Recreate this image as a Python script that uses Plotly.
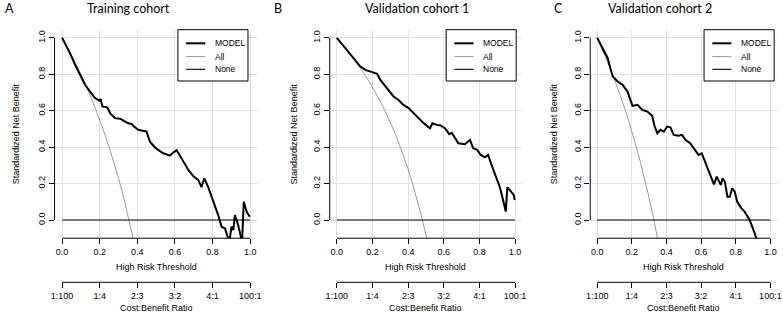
import plotly.graph_objects as go

# ---------------- data ----------------
panel_letters = ["A", "B", "C"]
panel_titles = ["Training cohort", "Validation cohort 1", "Validation cohort 2"]
series_names = ["MODEL", "All", "None"]

x_tickvals = [0.0, 0.2, 0.4, 0.6, 0.8, 1.0]
x_ticktext = ["0.0", "0.2", "0.4", "0.6", "0.8", "1.0"]
y_tickvals = [0.0, 0.2, 0.4, 0.6, 0.8, 1.0]
y_ticktext = ["0.0", "0.2", "0.4", "0.6", "0.8", "1.0"]
cb_ticktext = ["1:100", "1:4", "2:3", "3:2", "4:1", "100:1"]

# Training cohort
model_A_x = [0, 0.02, 0.042, 0.069, 0.096, 0.122, 0.149, 0.175, 0.198, 0.205, 0.214, 0.237, 0.245,
             0.255, 0.281, 0.308, 0.326, 0.352, 0.37, 0.379, 0.405, 0.432, 0.449, 0.467, 0.494, 0.511,
             0.538, 0.555, 0.573, 0.591, 0.609, 0.635, 0.671, 0.697, 0.724, 0.741, 0.756, 0.777, 0.795,
             0.812, 0.830, 0.848, 0.866, 0.889, 0.901, 0.91, 0.919, 0.936, 0.957, 0.966, 0.981, 0.998]
model_A_y = [1.0, 0.96, 0.916, 0.852, 0.797, 0.742, 0.705, 0.669, 0.655, 0.664, 0.623, 0.619, 0.61,
             0.586, 0.559, 0.556, 0.546, 0.531, 0.527, 0.516, 0.495, 0.489, 0.485, 0.43, 0.398, 0.385,
             0.366, 0.36, 0.353, 0.37, 0.383, 0.339, 0.275, 0.242, 0.220, 0.180, 0.229, 0.180, 0.128,
             0.082, 0.027, -0.037, -0.046, -0.12, -0.037, -0.055, 0.027, -0.027, -0.12, 0.10, 0.046, 0.018]
all_A_x = [0, 0.025, 0.05, 0.075, 0.1, 0.125, 0.15, 0.175, 0.2, 0.225, 0.25, 0.275, 0.3, 0.325,
           0.35, 0.375, 0.4]
all_A_y = [1.0, 0.954, 0.905, 0.854, 0.8, 0.743, 0.682, 0.618, 0.55, 0.477, 0.4, 0.317, 0.229, 0.133,
           0.031, -0.08, -0.2]

# Validation cohort 1
model_B_x = [0, 0.039, 0.077, 0.104, 0.132, 0.16, 0.188, 0.226, 0.244, 0.266, 0.291, 0.318, 0.346,
             0.374, 0.402, 0.43, 0.458, 0.486, 0.514, 0.523, 0.536, 0.561, 0.579, 0.607, 0.631, 0.645,
             0.682, 0.719, 0.747, 0.765, 0.788, 0.808, 0.831, 0.849, 0.868, 0.896, 0.915, 0.933, 0.948,
             0.957, 0.98, 0.993, 0.998]
model_B_y = [1.0, 0.952, 0.907, 0.870, 0.842, 0.824, 0.815, 0.802, 0.769, 0.742, 0.705, 0.678, 0.659,
             0.632, 0.614, 0.586, 0.559, 0.533, 0.51, 0.504, 0.531, 0.522, 0.52, 0.504, 0.471, 0.478,
             0.421, 0.416, 0.44, 0.394, 0.385, 0.357, 0.344, 0.357, 0.302, 0.229, 0.180, 0.110, 0.046,
             0.180, 0.15, 0.137, 0.110]
all_B_x = [0, 0.025, 0.05, 0.075, 0.1, 0.125, 0.15, 0.175, 0.2, 0.225, 0.25, 0.275, 0.3, 0.325,
           0.35, 0.375, 0.4, 0.425, 0.45, 0.475, 0.5, 0.525]
all_B_y = [1.0, 0.972, 0.943, 0.912, 0.880, 0.845, 0.809, 0.770, 0.729, 0.686, 0.639, 0.589, 0.536,
           0.479, 0.417, 0.350, 0.278, 0.200, 0.114, 0.020, -0.083, -0.197]

# Validation cohort 2
model_C_x = [0, 0.033, 0.061, 0.076, 0.09, 0.118, 0.147, 0.175, 0.194, 0.204, 0.233, 0.261, 0.29,
             0.309, 0.318, 0.33, 0.347, 0.366, 0.385, 0.404, 0.423, 0.442, 0.471, 0.49, 0.509, 0.537,
             0.566, 0.585, 0.604, 0.623, 0.642, 0.661, 0.674, 0.69, 0.705, 0.714, 0.724, 0.737, 0.752,
             0.766, 0.779, 0.794, 0.808, 0.833, 0.851, 0.88, 0.899, 0.914, 0.93]
model_C_y = [1.0, 0.943, 0.888, 0.833, 0.788, 0.760, 0.742, 0.705, 0.659, 0.626, 0.632, 0.604, 0.595,
             0.58, 0.57, 0.52, 0.476, 0.495, 0.485, 0.513, 0.509, 0.467, 0.462, 0.467, 0.440, 0.421,
             0.385, 0.357, 0.366, 0.320, 0.275, 0.220, 0.196, 0.238, 0.211, 0.192, 0.229, 0.211, 0.128,
             0.128, 0.174, 0.156, 0.101, 0.064, 0.046, 0.0, -0.046, -0.092, -0.13]
all_C_x = [0, 0.025, 0.05, 0.075, 0.1, 0.125, 0.15, 0.175, 0.2, 0.225, 0.25, 0.275, 0.3, 0.325,
           0.35, 0.375]
all_C_y = [1.0, 0.947, 0.892, 0.834, 0.772, 0.707, 0.638, 0.565, 0.4875, 0.405, 0.317, 0.222, 0.121,
           0.013, -0.104, -0.23]

none_x = [0.0, 1.0]
none_y = [0.0, 0.0]

models = [(model_A_x, model_A_y), (model_B_x, model_B_y), (model_C_x, model_C_y)]
alls = [(all_A_x, all_A_y), (all_B_x, all_B_y), (all_C_x, all_C_y)]

# ---------------- layout geometry (pixels) ----------------
W, H = 783, 313
x0_px = [58.7, 336.3, 599.3]     # pixel of threshold 0
x1_px = [248.7, 516.3, 774.3]    # pixel of threshold 1
y0_px, y1_px = 220.0, 37.8       # pixels of net benefit 0 and 1
XR = [-0.04, 1.04]
YR = [-0.1, 1.045]
cb_axis_px = 282.3
title_cx = [125.8, 417.0, 662.5]
letter_cx = [6.0, 277.0, 560.0]
ylab_cx = [12.5, 292.5, 556.0]
legend_left_px = [175.7, 446.7, 707.3]
legend_w, legend_top, legend_h = 70.8, 29.7, 51.3
legend_rows = [13.6, 26.9, 39.6]
legend_line = [8.3, 27.6]
legend_text_dx = 35.5

AX_FONT = dict(family="Liberation Sans, Arial, sans-serif", size=9, color="#000")
LEG_FONT = dict(family="Liberation Sans, Arial, sans-serif", size=8.5, color="#000")
TITLE_FONT = dict(family="Lato, Open Sans, sans-serif", size=12.5, color="#000")
GRID = "#e3e3e3"
series_styles = [dict(color="#000", width=2), dict(color="#9a9a9a", width=1),
                 dict(color="#000", width=1.1)]

def px2x(p):
    return p / W

def px2y(p):
    return 1 - p / H

fig = go.Figure()
layout = dict(width=W, height=H, margin=dict(l=0, r=0, t=0, b=0),
              plot_bgcolor="white", paper_bgcolor="white", showlegend=False)
shapes, annotations = [], []

ypx_per = y0_px - y1_px
ybot_px = y0_px - YR[0] * ypx_per
ytop_px = y0_px - YR[1] * ypx_per

for i in range(3):
    n = i + 1
    sfx = "" if n == 1 else str(n)
    xa, ya = "x" + sfx, "y" + sfx
    cbn = n + 3
    w = x1_px[i] - x0_px[i]
    L = x0_px[i] + XR[0] * w
    R = x0_px[i] + XR[1] * w

    mx, my = models[i]
    axx, axy = alls[i]
    fig.add_trace(go.Scatter(x=axx, y=axy, mode="lines", name=series_names[1],
                             line=series_styles[1], xaxis=xa, yaxis=ya, hoverinfo="skip"))
    fig.add_trace(go.Scatter(x=none_x, y=none_y, mode="lines", name=series_names[2],
                             line=series_styles[2], xaxis=xa, yaxis=ya, hoverinfo="skip"))
    fig.add_trace(go.Scatter(x=mx, y=my, mode="lines", name=series_names[0],
                             line=series_styles[0], xaxis=xa, yaxis=ya, hoverinfo="skip"))
    # carrier for cost:benefit axis
    fig.add_trace(go.Scatter(x=x_tickvals, y=[None] * len(x_tickvals), mode="lines",
                             xaxis="x" + str(cbn), yaxis=ya, hoverinfo="skip"))

    layout["xaxis" + sfx] = dict(
        domain=[px2x(L), px2x(R)], range=XR, anchor=ya,
        tickvals=x_tickvals, ticktext=x_ticktext, ticks="outside", ticklen=5,
        tickcolor="#000", tickwidth=1, tickfont=AX_FONT, showline=False,
        showgrid=True, gridcolor=GRID, gridwidth=1, zeroline=False, fixedrange=True)
    layout["yaxis" + sfx] = dict(
        domain=[px2y(ybot_px), px2y(ytop_px)], range=YR, anchor=xa,
        tickvals=y_tickvals, ticktext=y_ticktext, ticks="outside", ticklen=5,
        tickcolor="#000", tickwidth=1, tickfont=AX_FONT, tickangle=-90, showline=False,
        showgrid=True, gridcolor=GRID, gridwidth=1, zeroline=False, fixedrange=True)
    layout["xaxis" + str(cbn)] = dict(
        overlaying=xa, anchor="free", position=px2y(cb_axis_px), range=XR,
        tickvals=x_tickvals, ticktext=cb_ticktext, ticks="outside", ticklen=5,
        tickcolor="#000", tickwidth=1, tickfont=AX_FONT, showline=False, showgrid=False,
        zeroline=False, fixedrange=True)

    # R-style axis lines spanning first to last tick
    shapes.append(dict(type="line", xref=xa, yref=ya + " domain", x0=x_tickvals[0],
                       x1=x_tickvals[-1], y0=0, y1=0, line=dict(color="#000", width=1)))
    shapes.append(dict(type="line", xref=xa + " domain", yref=ya, x0=0, x1=0,
                       y0=y_tickvals[0], y1=y_tickvals[-1], line=dict(color="#000", width=1)))
    shapes.append(dict(type="line", xref=xa, yref="paper", x0=x_tickvals[0], x1=x_tickvals[-1],
                       y0=px2y(cb_axis_px), y1=px2y(cb_axis_px), line=dict(color="#000", width=1)))

    # legend box (R style)
    lx = legend_left_px[i]
    shapes.append(dict(type="rect", xref="paper", yref="paper", x0=px2x(lx), x1=px2x(lx + legend_w),
                       y0=px2y(legend_top), y1=px2y(legend_top + legend_h),
                       fillcolor="white", line=dict(color="#000", width=1), layer="above"))
    for k, name in enumerate(series_names):
        ry = legend_top + legend_rows[k]
        shapes.append(dict(type="line", xref="paper", yref="paper",
                           x0=px2x(lx + legend_line[0]), x1=px2x(lx + legend_line[1]),
                           y0=px2y(ry), y1=px2y(ry), line=series_styles[k], layer="above"))
        annotations.append(dict(text=name, x=px2x(lx + legend_text_dx), y=px2y(ry), xref="paper",
                                yref="paper", showarrow=False, font=LEG_FONT, xanchor="left",
                                yanchor="middle"))

    cx = (x0_px[i] + x1_px[i]) / 2
    annotations += [
        dict(text="High Risk Threshold", x=px2x(cx), y=px2y(266.7), xref="paper", yref="paper",
             showarrow=False, font=AX_FONT, xanchor="center", yanchor="middle"),
        dict(text="Cost:Benefit Ratio", x=px2x(cx), y=px2y(308.3), xref="paper", yref="paper",
             showarrow=False, font=AX_FONT, xanchor="center", yanchor="middle"),
        dict(text="Standardized Net Benefit", x=px2x(ylab_cx[i]), y=px2y((ybot_px + ytop_px) / 2),
             xref="paper", yref="paper", showarrow=False, font=AX_FONT, textangle=-90,
             xanchor="center", yanchor="middle"),
        dict(text=panel_titles[i], x=px2x(title_cx[i]), y=px2y(8), xref="paper", yref="paper",
             showarrow=False, font=TITLE_FONT, xanchor="center", yanchor="middle"),
        dict(text=panel_letters[i], x=px2x(letter_cx[i]), y=px2y(8), xref="paper", yref="paper",
             showarrow=False, font=TITLE_FONT, xanchor="center", yanchor="middle"),
    ]

layout["shapes"] = shapes
layout["annotations"] = annotations
fig.update_layout(**layout)
fig.write_html("out.html", config={"displayModeBar": False},
               post_script="document.body.style.margin='0';document.body.style.overflow='hidden';")
